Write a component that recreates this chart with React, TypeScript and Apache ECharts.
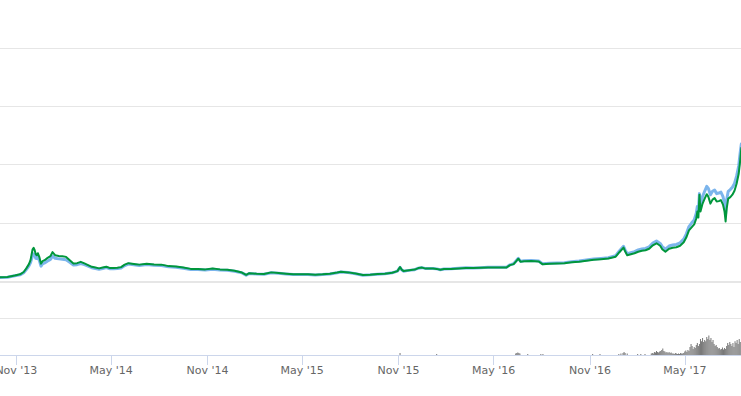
import React, { useEffect, useRef } from "react";
import * as echarts from "echarts";

const priceDates = [
  "2013-10-01","2013-10-15","2013-10-29","2013-11-08","2013-11-15","2013-11-20","2013-11-25","2013-11-28",
  "2013-12-02","2013-12-04","2013-12-06","2013-12-08","2013-12-10","2013-12-12","2013-12-15","2013-12-18",
  "2013-12-21","2013-12-25","2013-12-30","2014-01-05","2014-01-09","2014-01-14","2014-01-21","2014-01-28",
  "2014-02-04","2014-02-11","2014-02-18","2014-02-25","2014-03-04","2014-03-11","2014-03-18","2014-03-25",
  "2014-04-01","2014-04-08","2014-04-15","2014-04-22","2014-04-29","2014-05-06","2014-05-13","2014-05-20",
  "2014-05-27","2014-06-03","2014-06-10","2014-06-17","2014-06-24","2014-07-08","2014-07-22","2014-08-05",
  "2014-08-19","2014-09-02","2014-09-16","2014-09-30","2014-10-14","2014-10-28","2014-11-11","2014-11-25",
  "2014-12-09","2014-12-23","2015-01-06","2015-01-14","2015-01-20","2015-02-03","2015-02-17","2015-03-03",
  "2015-03-17","2015-03-31","2015-04-14","2015-04-28","2015-05-12","2015-05-26","2015-06-09","2015-06-23",
  "2015-07-07","2015-07-14","2015-07-28","2015-08-11","2015-08-25","2015-09-08","2015-09-22","2015-10-06",
  "2015-10-20","2015-10-30","2015-11-04","2015-11-07","2015-11-11","2015-11-18","2015-11-25","2015-12-02",
  "2015-12-09","2015-12-16","2015-12-23","2015-12-30","2016-01-06","2016-01-13","2016-01-20","2016-01-27",
  "2016-02-10","2016-02-24","2016-03-09","2016-03-23","2016-04-06","2016-04-20","2016-05-04","2016-05-18",
  "2016-05-25","2016-06-01","2016-06-08","2016-06-13","2016-06-17","2016-06-21","2016-06-28","2016-07-12",
  "2016-07-26","2016-08-02","2016-08-16","2016-08-30","2016-09-13","2016-09-27","2016-10-11","2016-10-25",
  "2016-11-08","2016-11-22","2016-12-06","2016-12-20","2016-12-27","2017-01-04","2017-01-07","2017-01-11",
  "2017-01-18","2017-01-25","2017-02-01","2017-02-08","2017-02-15","2017-02-22","2017-03-01","2017-03-08",
  "2017-03-15","2017-03-19","2017-03-25","2017-04-01","2017-04-08","2017-04-15","2017-04-22","2017-04-29",
  "2017-05-04","2017-05-09","2017-05-14","2017-05-19","2017-05-23","2017-05-25","2017-05-27","2017-05-29",
  "2017-05-31","2017-06-04","2017-06-08","2017-06-12","2017-06-15","2017-06-19","2017-06-23","2017-06-27",
  "2017-07-01","2017-07-05","2017-07-09","2017-07-13","2017-07-16","2017-07-18","2017-07-20","2017-07-23",
  "2017-07-27","2017-07-31","2017-08-04","2017-08-08","2017-08-12","2017-08-15","2017-08-17"
];

const greenPrices = [
  125,140,190,230,310,433,580,715,
  1090,1140,1056,920,885,955,818,596,
  680,715,784,852,990,885,862,852,
  828,715,603,613,658,603,545,487,
  460,433,460,487,443,443,453,477,
  562,613,596,579,562,596,569,562,
  511,500,460,416,416,399,426,399,
  385,351,290,211,270,249,238,296,
  273,249,228,228,228,215,228,249,
  290,317,296,256,204,215,238,249,
  283,340,477,392,340,358,375,392,
  443,460,426,433,433,416,385,409,
  416,433,450,443,453,467,467,467,
  460,545,579,681,766,664,681,688,
  671,579,596,603,613,647,664,698,
  732,750,773,835,988,1148,1022,885,
  920,954,1005,1039,1056,1107,1227,1295,
  1210,1090,1005,1107,1141,1158,1210,1329,
  1500,1738,1840,1942,2146,2385,2180,2964,
  2385,2657,2828,2981,2896,2657,2794,2845,
  2726,2743,2777,2623,2385,2044,2487,2828,
  2879,2964,3100,3339,3680,4157,4565
];

const bluePrices = [
  120,132,178,210,285,390,520,630,
  880,930,900,780,770,820,700,510,
  590,620,680,740,860,780,760,750,
  730,640,550,560,600,560,510,455,
  430,405,430,460,420,420,430,450,
  530,580,565,550,535,565,540,535,
  485,475,440,395,395,380,405,380,
  368,335,278,200,258,240,230,285,
  265,242,222,222,222,210,222,243,
  283,310,290,250,200,212,235,246,
  280,338,470,388,338,356,373,390,
  440,458,425,432,433,416,385,410,
  418,436,453,447,458,472,473,474,
  468,555,590,695,780,678,695,702,
  686,595,612,620,630,665,683,720,
  756,776,800,870,1030,1190,1070,935,
  975,1010,1065,1100,1120,1175,1300,1370,
  1290,1180,1095,1200,1235,1255,1310,1440,
  1620,1870,1990,2100,2330,2560,2400,3000,
  2620,2900,3080,3250,3180,2960,3080,3120,
  3000,3020,3050,2900,2650,2300,2780,3080,
  3140,3220,3350,3600,3950,4420,4700
];

const volumeDates = [
  "2015-11-04","2016-01-13","2016-06-12","2016-06-14","2016-06-16","2016-06-18","2016-06-20","2016-07-05",
  "2016-07-30","2016-08-03","2016-11-06","2016-11-20","2016-12-26","2016-12-30","2017-01-03","2017-01-05",
  "2017-01-07","2017-01-11","2017-01-31","2017-02-06","2017-02-14",
  "2017-02-26","2017-02-28","2017-03-02","2017-03-04","2017-03-06","2017-03-08","2017-03-10","2017-03-12",
  "2017-03-14","2017-03-16","2017-03-18","2017-03-20","2017-03-22","2017-03-24","2017-03-26","2017-03-28",
  "2017-03-30","2017-04-01","2017-04-03","2017-04-05","2017-04-07","2017-04-09","2017-04-11","2017-04-13",
  "2017-04-15","2017-04-17","2017-04-19","2017-04-21","2017-04-23","2017-04-25","2017-04-27","2017-04-29",
  "2017-05-01","2017-05-03","2017-05-05","2017-05-07","2017-05-09","2017-05-11","2017-05-13","2017-05-15",
  "2017-05-17","2017-05-19","2017-05-21","2017-05-23","2017-05-25","2017-05-27","2017-05-29","2017-05-31",
  "2017-06-02","2017-06-04","2017-06-06","2017-06-08","2017-06-10","2017-06-12","2017-06-14","2017-06-16",
  "2017-06-18","2017-06-20","2017-06-22","2017-06-24","2017-06-26","2017-06-28","2017-06-30","2017-07-02",
  "2017-07-04","2017-07-06","2017-07-08","2017-07-10","2017-07-12","2017-07-14","2017-07-16","2017-07-18",
  "2017-07-20","2017-07-22","2017-07-24","2017-07-26","2017-07-28","2017-07-30","2017-08-01","2017-08-03",
  "2017-08-05","2017-08-07","2017-08-09","2017-08-11","2017-08-13","2017-08-15"
];

const volumeValues = [
  5.5,2.7,4,5.5,7,5.5,4,2.7,
  2.7,2.7,2.7,2.7,2.7,4,5.5,8,
  5.5,4,2.7,2.7,2.7,
  4,5.5,4,8,7,11,8,7,
  9.5,11,13.7,17.8,11,9.5,7,8,
  5.5,8,5.5,7,4,4,2.7,5.5,
  4,2.7,4,2.7,5.5,4,4,5.5,
  9.5,12.3,8,13.7,11,22,30,24.7,
  16.4,22,19,27.4,33,24.7,30,44,
  38,46.6,35.6,41,38,49,44,53.4,
  41,46.6,35.6,41,30,24.7,27.4,22,
  17.8,19,15,16.4,20.5,15,19,16.4,
  24.7,33,27.4,35.6,30,24.7,33,22,
  38,33,41,30,44,35.6
];

const tickDates = [
  "2013-11-01","2014-05-01","2014-11-01","2015-05-01",
  "2015-11-01","2016-05-01","2016-11-01","2017-05-01"
];

const MONTHS = ["Jan","Feb","Mar","Apr","May","Jun","Jul","Aug","Sep","Oct","Nov","Dec"];

export default function App() {
  const ref = useRef<HTMLDivElement>(null);

  useEffect(() => {
    if (!ref.current) return;
    const chart = echarts.init(ref.current, null, { renderer: "svg" });
    const t = (s: string) => Date.parse(s);
    const ticks = tickDates.map(t);
    const xMin = Date.UTC(2013, 8, 30, 17);
    const xMax = Date.UTC(2017, 7, 16, 10);

    const green = priceDates.map((d, i) => [t(d), greenPrices[i]]);
    const blue = priceDates.map((d, i) => [t(d), bluePrices[i]]);
    const vol = volumeDates.map((d, i) => [t(d), volumeValues[i]]);

    chart.setOption({
      animation: false,
      grid: [
        { left: 0, right: 0, top: 48, height: 233, outerBoundsMode: "none", containLabel: false },
        { left: 0, right: 0, top: 282, height: 73, outerBoundsMode: "none", containLabel: false },
      ],
      xAxis: [
        {
          type: "value",
          gridIndex: 0,
          min: xMin,
          max: xMax,
          axisLine: { show: false },
          axisTick: { show: false },
          axisLabel: { show: false },
          splitLine: { show: false },
        },
        {
          type: "value",
          gridIndex: 1,
          min: xMin,
          max: xMax,
          axisLine: { show: true, lineStyle: { color: "#ccd6eb", width: 1 } },
          axisTick: {
            show: true,
            customValues: ticks,
            length: 10,
            lineStyle: { color: "#ccd6eb", width: 1 },
          },
          axisLabel: {
            show: true,
            customValues: ticks,
            margin: 10,
            color: "#666666",
            fontSize: 11,
            fontFamily: "DejaVu Sans",
            formatter: (v: number) => {
              const d = new Date(v);
              return MONTHS[d.getUTCMonth()] + " '" + String(d.getUTCFullYear()).slice(2);
            },
          },
          splitLine: { show: false },
        },
      ],
      yAxis: [
        {
          type: "value",
          gridIndex: 0,
          min: 0,
          max: 8000,
          interval: 2000,
          axisLine: { show: false },
          axisTick: { show: false },
          axisLabel: { show: false },
          splitLine: { show: true, lineStyle: { color: "#e6e6e6", width: 1 } },
        },
        {
          type: "value",
          gridIndex: 1,
          min: 0,
          max: 200,
          interval: 100,
          axisLine: { show: false },
          axisTick: { show: false },
          axisLabel: { show: false },
          splitLine: { show: true, lineStyle: { color: "#e6e6e6", width: 1 } },
        },
      ],
      series: [
        {
          type: "line",
          name: "Index",
          xAxisIndex: 0,
          yAxisIndex: 0,
          data: blue,
          symbol: "none",
          lineStyle: { color: "#7cb5ec", width: 3, join: "round", cap: "round" },
          z: 2,
        },
        {
          type: "line",
          name: "Price",
          xAxisIndex: 0,
          yAxisIndex: 0,
          data: green,
          symbol: "none",
          lineStyle: { color: "#00963c", width: 2, join: "round", cap: "round" },
          z: 3,
        },
        {
          type: "bar",
          name: "Volume",
          xAxisIndex: 1,
          yAxisIndex: 1,
          data: vol,
          barWidth: 1,
          itemStyle: { color: "#777777" },
        },
      ],
    });

    return () => chart.dispose();
  }, []);

  return (
    <div
      ref={ref}
      style={{ position: "absolute", left: 0, top: 0, width: 741, height: 396 }}
    />
  );
}
